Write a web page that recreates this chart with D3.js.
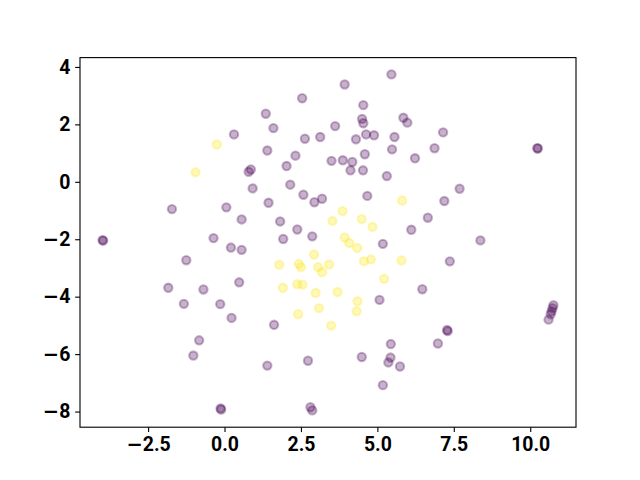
<!DOCTYPE html>
<html>
<head>
<meta charset="utf-8">
<script src="https://cdn.jsdelivr.net/npm/d3@7"></script>
<style>
  body { margin: 0; background: #fff; }
  svg { display: block; }
  .tick text { font-family: Roboto, "DejaVu Sans", sans-serif; font-weight: bold; }
  .tick text .minus { font-family: "DejaVu Sans", sans-serif; }
</style>
</head>
<body>
<div id="chart"></div>
<script>
// group 0 (purple)
const purpleX = [0.31, 0.79, 0.86, 5.46, 3.93, 2.54, 4.54, 1.35, 4.50, 4.54, 5.85, 5.98, 1.60, 3.62, 2.63, 3.13,
  4.30, 4.63, 4.89, 5.56, 1.40, 2.32, 2.03, 3.50, 3.87, 4.18, 4.59, 5.48, 6.23, 4.12, 4.53, 5.31, 2.15, 7.15,
  6.87, 10.23, 10.25, 7.69, -1.72, 0.06, 0.56, -3.99, -3.97, -0.36, 0.21, 0.56, -1.25, 0.48, -1.84, -0.69,
  -1.33, -0.14, 0.23, 0.92, 2.58, 2.94, 3.19, 1.44, 4.67, 1.82, 2.38, 1.92, 2.87, 6.11, 5.18, 5.07, 6.47,
  7.19, 6.65, 8.37, 7.37, 10.76, 10.73, 10.70, 10.67, 10.60, -0.83, -1.02, -0.13, -0.11, 1.62, 5.44, 1.40,
  2.73, 4.49, 5.43, 5.36, 5.74, 5.18, 2.81, 2.87, 7.28, 7.30, 6.98];
const purpleY = [1.65, 0.35, 0.43, 3.74, 3.39, 2.91, 2.67, 2.37, 2.19, 2.04, 2.23, 2.06, 1.87, 1.94, 1.50, 1.56,
  1.48, 1.65, 1.62, 1.56, 1.09, 0.91, 0.55, 0.73, 0.75, 0.69, 0.96, 1.13, 0.82, 0.40, 0.40, 0.20, -0.10, 1.72,
  1.17, 1.17, 1.16, -0.24, -0.95, -0.89, -1.31, -2.03, -2.05, -1.96, -2.29, -2.37, -2.73, -3.50, -3.69, -3.75,
  -4.25, -4.26, -4.74, -0.23, -0.45, -0.71, -0.59, -0.73, -0.49, -1.38, -1.66, -1.99, -1.90, -1.67, -2.16,
  -4.11, -3.74, -0.67, -1.25, -2.04, -2.77, -4.30, -4.40, -4.51, -4.61, -4.80, -5.52, -6.05, -7.89, -7.93,
  -4.98, -5.65, -6.40, -6.23, -6.10, -6.12, -6.29, -6.43, -7.08, -7.85, -7.96, -5.16, -5.20, -5.63];

// group 1 (yellow)
const yellowX = [-0.25, -0.95, 5.81, 3.86, 3.53, 4.49, 4.84, 3.93, 4.08, 4.34, 2.93, 1.79, 2.43, 2.50, 3.06, 3.42,
  3.19, 4.56, 4.79, 5.79, 5.22, 1.91, 2.38, 2.55, 2.98, 3.70, 4.35, 3.09, 4.32, 2.41, 3.49];
const yellowY = [1.30, 0.33, -0.65, -1.02, -1.36, -1.30, -1.57, -1.94, -2.13, -2.30, -2.53, -2.89, -2.86, -2.97,
  -2.97, -2.88, -3.15, -2.77, -2.70, -2.74, -3.38, -3.69, -3.57, -3.58, -3.87, -3.84, -4.16, -4.40, -4.51,
  -4.61, -5.01];

const xTicks = [-2.5, 0, 2.5, 5, 7.5, 10];
const yTicks = [-8, -6, -4, -2, 0, 2, 4];

const width = 640, height = 480;
const margin = {left: 80, right: 64, top: 57.6, bottom: 52.8};
const pt = 100 / 72;

const points = [];
purpleX.forEach((x, i) => points.push({x: x, y: purpleY[i], c: 0}));
yellowX.forEach((x, i) => points.push({x: x, y: yellowY[i], c: 1}));

function padded(ext) {
  const m = (ext[1] - ext[0]) * 0.05;
  return [ext[0] - m, ext[1] + m];
}

const x = d3.scaleLinear()
  .domain(padded(d3.extent(points, d => d.x)))
  .range([margin.left, width - margin.right]);
const y = d3.scaleLinear()
  .domain(padded(d3.extent(points, d => d.y)))
  .range([height - margin.bottom, margin.top]);

const color = d => d3.interpolateViridis(d.c);

const svg = d3.select("#chart").append("svg")
  .attr("width", width)
  .attr("height", height);

svg.append("g")
  .selectAll("circle")
  .data(points)
  .join("circle")
    .attr("cx", d => x(d.x))
    .attr("cy", d => y(d.y))
    .attr("r", 3 * pt)
    .attr("fill", color)
    .attr("fill-opacity", 0.3)
    .attr("stroke", color)
    .attr("stroke-opacity", 0.3)
    .attr("stroke-width", 1.5 * pt);

const xAxis = svg.append("g")
  .attr("transform", `translate(0,${height - margin.bottom})`)
  .call(d3.axisBottom(x).tickValues(xTicks).tickFormat(d3.format(".1f"))
    .tickSizeInner(3.5 * pt).tickSizeOuter(0).tickPadding(3.5 * pt));
const yAxis = svg.append("g")
  .attr("transform", `translate(${margin.left},0)`)
  .call(d3.axisLeft(y).tickValues(yTicks).tickFormat(d3.format("d"))
    .tickSizeInner(3.5 * pt).tickSizeOuter(0).tickPadding(3.5 * pt));

[xAxis, yAxis].forEach(g => {
  g.select(".domain").remove();
  g.selectAll(".tick line").attr("stroke", "#000").attr("stroke-width", 0.8 * pt);
  g.selectAll(".tick text").attr("fill", "#000").attr("font-size", 14 * pt)
    .each(function() {
      // the minus sign comes from DejaVu like in the original
      const t = d3.select(this), s = t.text();
      if (s[0] !== "\u2212") return;
      t.text(null);
      t.append("tspan").attr("class", "minus").text("\u2212");
      t.append("tspan").text(s.slice(1));
    });
});

// frame
svg.append("rect")
  .attr("x", margin.left)
  .attr("y", margin.top)
  .attr("width", width - margin.left - margin.right)
  .attr("height", height - margin.top - margin.bottom)
  .attr("fill", "none")
  .attr("stroke", "#000")
  .attr("stroke-width", 0.8 * pt);
</script>
</body>
</html>
